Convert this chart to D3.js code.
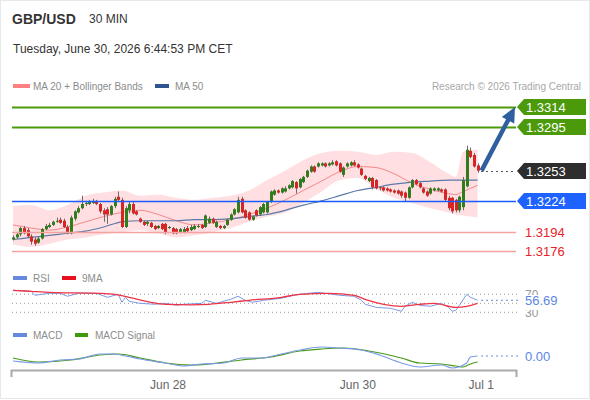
<!DOCTYPE html>
<html><head><meta charset="utf-8">
<script src="https://cdn.jsdelivr.net/npm/d3@7"></script>
<style>
body{margin:0;background:#fff;}
svg{display:block;font-family:"Liberation Sans",Arial,sans-serif;}
</style></head><body><svg id="c" width="590" height="400"></svg>
<script>
// ---------- DATA ----------
const opens = [1.3187,1.3189,1.3192,1.3198,1.3196,1.3190,1.3187,1.3184,1.3188,1.3197,
1.3199,1.3201,1.3204,1.3206,1.3205,1.3199,1.3193,1.3207,1.3213,1.3217,
1.3221,1.3221,1.3222,1.3224,1.3221,1.3215,1.3216,1.3211,1.3219,1.3228,
1.3225,1.3199,1.3215,1.3221,1.3214,1.3207,1.3204,1.3202,1.3203,1.3200,
1.3198,1.3202,1.3202,1.3198,1.3198,1.3197,1.3194,1.3194,1.3198,1.3196,
1.3197,1.3199,1.3201,1.3199,1.3203,1.3207,1.3199,1.3200,1.3198,1.3201,
1.3206,1.3211,1.3213,1.3226,1.3215,1.3213,1.3206,1.3215,1.3211,1.3213,
1.3213,1.3223,1.3230,1.3234,1.3232,1.3233,1.3236,1.3237,1.3242,1.3237,
1.3242,1.3247,1.3252,1.3257,1.3257,1.3258,1.3260,1.3258,1.3259,1.3262,
1.3260,1.3249,1.3257,1.3258,1.3261,1.3259,1.3255,1.3248,1.3243,1.3246,
1.3244,1.3237,1.3237,1.3236,1.3235,1.3234,1.3234,1.3233,1.3232,1.3227,
1.3237,1.3244,1.3241,1.3236,1.3233,1.3231,1.3234,1.3234,1.3235,1.3235,
1.3227,1.3227,1.3225,1.3215,1.3218,1.3238,1.3272,1.3268,1.3258];
const highs = [1.3191,1.3194,1.3199,1.3200,1.3198,1.3192,1.3189,1.3190,1.3198,1.3202,
1.3203,1.3205,1.3208,1.3208,1.3207,1.3201,1.3210,1.3215,1.3219,1.3229,
1.3224,1.3225,1.3226,1.3225,1.3222,1.3217,1.3218,1.3220,1.3228,1.3233,
1.3227,1.3219,1.3223,1.3223,1.3215,1.3208,1.3205,1.3205,1.3204,1.3201,
1.3201,1.3203,1.3203,1.3200,1.3199,1.3198,1.3198,1.3199,1.3200,1.3201,
1.3202,1.3202,1.3202,1.3211,1.3209,1.3208,1.3205,1.3201,1.3201,1.3207,
1.3212,1.3217,1.3228,1.3228,1.3216,1.3214,1.3210,1.3216,1.3219,1.3222,
1.3224,1.3234,1.3235,1.3235,1.3237,1.3238,1.3240,1.3244,1.3243,1.3246,
1.3248,1.3254,1.3258,1.3258,1.3261,1.3261,1.3261,1.3261,1.3263,1.3263,
1.3261,1.3257,1.3261,1.3262,1.3263,1.3260,1.3256,1.3249,1.3247,1.3247,
1.3245,1.3238,1.3238,1.3237,1.3236,1.3235,1.3235,1.3234,1.3233,1.3238,
1.3245,1.3245,1.3242,1.3237,1.3234,1.3237,1.3237,1.3237,1.3236,1.3236,
1.3229,1.3228,1.3226,1.3229,1.3247,1.3277,1.3275,1.3270,1.3260];
const lows = [1.3186,1.3188,1.3190,1.3192,1.3189,1.3182,1.3181,1.3183,1.3187,1.3196,
1.3198,1.3200,1.3203,1.3202,1.3198,1.3192,1.3192,1.3205,1.3212,1.3216,
1.3219,1.3220,1.3221,1.3220,1.3212,1.3204,1.3202,1.3210,1.3217,1.3224,
1.3198,1.3198,1.3212,1.3211,1.3210,1.3203,1.3200,1.3200,1.3198,1.3196,
1.3197,1.3196,1.3192,1.3197,1.3192,1.3192,1.3193,1.3193,1.3194,1.3195,
1.3196,1.3198,1.3197,1.3198,1.3202,1.3202,1.3198,1.3197,1.3197,1.3200,
1.3205,1.3210,1.3212,1.3212,1.3207,1.3205,1.3205,1.3209,1.3210,1.3212,
1.3212,1.3222,1.3229,1.3231,1.3231,1.3232,1.3235,1.3236,1.3231,1.3236,
1.3241,1.3246,1.3251,1.3251,1.3256,1.3257,1.3256,1.3257,1.3258,1.3257,
1.3251,1.3247,1.3256,1.3257,1.3257,1.3255,1.3248,1.3244,1.3242,1.3235,
1.3235,1.3234,1.3233,1.3233,1.3232,1.3231,1.3230,1.3227,1.3223,1.3226,
1.3236,1.3239,1.3236,1.3231,1.3228,1.3230,1.3233,1.3233,1.3232,1.3223,
1.3215,1.3212,1.3213,1.3213,1.3215,1.3237,1.3265,1.3256,1.3251];
const closes = [1.3189,1.3192,1.3198,1.3193,1.3190,1.3185,1.3183,1.3188,1.3197,1.3200,
1.3201,1.3204,1.3205,1.3203,1.3199,1.3193,1.3208,1.3214,1.3217,1.3221,
1.3222,1.3223,1.3224,1.3221,1.3214,1.3211,1.3211,1.3219,1.3226,1.3225,
1.3199,1.3217,1.3221,1.3212,1.3211,1.3204,1.3201,1.3204,1.3199,1.3197,
1.3200,1.3197,1.3194,1.3199,1.3193,1.3193,1.3197,1.3197,1.3195,1.3199,
1.3200,1.3200,1.3198,1.3210,1.3207,1.3203,1.3204,1.3198,1.3200,1.3206,
1.3211,1.3216,1.3225,1.3213,1.3208,1.3206,1.3209,1.3210,1.3218,1.3221,
1.3223,1.3233,1.3234,1.3232,1.3236,1.3236,1.3239,1.3243,1.3236,1.3245,
1.3247,1.3253,1.3257,1.3252,1.3260,1.3260,1.3257,1.3260,1.3261,1.3258,
1.3252,1.3256,1.3260,1.3261,1.3258,1.3256,1.3249,1.3245,1.3246,1.3237,
1.3236,1.3236,1.3234,1.3234,1.3233,1.3232,1.3231,1.3229,1.3227,1.3237,
1.3244,1.3240,1.3237,1.3232,1.3229,1.3236,1.3236,1.3236,1.3233,1.3225,
1.3217,1.3214,1.3215,1.3228,1.3244,1.3273,1.3266,1.3257,1.3253];

// Indicator samples (candle index -> value)
const bandIdx = [0,5,10,15,20,25,30,35,40,45,50,55,60,65,70,75,80,85,90,95,100,105,110,115,120,122,124,126,128];
const bbUpper = [1.3219,1.3220,1.3215,1.3220,1.3229,1.3232,1.3234,1.3229,1.3230,1.3227,1.3225,1.3227,1.3229,1.3234,1.3244,1.3253,1.3263,1.3270,1.3272,1.3271,1.3268,1.3271,1.3270,1.3261,1.3250,1.3247,1.3271,1.3273,1.3273];
const bbLower = [1.3182,1.3180,1.3183,1.3187,1.3189,1.3192,1.3194,1.3196,1.3193,1.3189,1.3191,1.3194,1.3198,1.3204,1.3209,1.3213,1.3222,1.3233,1.3244,1.3246,1.3236,1.3227,1.3222,1.3217,1.3213,1.3211,1.3210,1.3209,1.3208];
const ma20 = [1.3201,1.3198,1.3196,1.3199,1.3204,1.3209,1.3213,1.3215,1.3211,1.3205,1.3201,1.3203,1.3206,1.3211,1.3217,1.3225,1.3234,1.3243,1.3252,1.3257,1.3256,1.3250,1.3241,1.3235,1.3231,1.3230,1.3233,1.3236,1.3239];
const ma50 = [1.3187,1.3189,1.3191,1.3193,1.3195,1.3199,1.3204,1.3205,1.3205,1.3205,1.3206,1.3206,1.3207,1.3209,1.3211,1.3215,1.3220,1.3224,1.3229,1.3234,1.3237,1.3240,1.3242,1.3243,1.3244,1.3244,1.3244,1.3244,1.3244];

const rsiIdx = [0,5,6,10,13,15,18,23,26,29,30,31,32,35,39,42,45,47,52,53,56,60,62,64,66,69,74,76,79,84,90,94,96,97,100,104,107,108,110,112,115,118,120,121,122,123,125,126,128];
const rsiVals = [78.9,76.7,67.8,72.2,72.2,65.6,72.2,72.2,63.3,70.0,52.2,63.3,54.4,50.0,47.8,50.0,45.6,47.8,50.0,56.7,50.0,58.9,65.6,56.7,52.2,56.7,61.1,65.6,70.0,74.4,67.8,65.6,56.7,47.8,41.1,38.9,32.2,43.3,52.2,45.6,43.3,50.0,41.1,32.2,34.4,45.6,70.0,63.3,56.69];
const rsiMaIdx = [0,5,10,24,28,32,38,42,49,54,60,65,74,79,87,94,97,107,112,116,122,125,128];
const rsiMaVals = [78.9,76.7,74.4,72.2,70.0,63.3,52.2,47.8,46.7,47.8,52.2,56.7,63.3,70.0,72.2,67.8,58.9,43.3,47.8,50.0,41.1,43.3,50.0];
const rsiLevels = [70,50,30];

const macdIdx = [0,7,13,18,24,28,31,35,42,47,52,58,63,68,74,79,85,90,96,101,107,112,118,121,125,126,128];
const macdVals = [-0.00010,-0.00014,-0.00008,-0.00006,0.00004,0.00004,0.00000,-0.00006,-0.00014,-0.00020,-0.00016,-0.00014,-0.00004,-0.00004,0.00004,0.00012,0.00018,0.00016,0.00012,0.00002,-0.00014,-0.00022,-0.00018,-0.00024,-0.00014,-0.00002,0.00000];
const sigIdx = [0,7,16,24,29,35,42,49,54,63,71,79,85,91,98,107,112,118,122,124,126,128];
const sigVals = [-0.00004,-0.00012,-0.00008,0.00002,0.00004,-0.00004,-0.00014,-0.00018,-0.00016,-0.00008,-0.00002,0.00010,0.00014,0.00016,0.00010,-0.00004,-0.00014,-0.00016,-0.00020,-0.00022,-0.00016,-0.00012];

const levelValues = [1.3314,1.3295,1.3224,1.3194,1.3176];
const levelTypes = ["target","resistance","pivot","support","support"];
const lastPrice = 1.3253;
const rsiLast = 56.69;
const macdLast = 0.00;

const tickIdx = [42.7,95,129];
const tickLabels = ["Jun 28","Jun 30","Jul 1"];

// ---------- DRAW ----------
const svg = d3.select("#c");
svg.append("rect").attr("x",0.5).attr("y",0.5).attr("width",589).attr("height",398)
  .attr("fill","#fff").attr("stroke","#e6e9ec");

// header
svg.append("text").attr("x",12).attr("y",24).attr("font-size",14).attr("font-weight","bold").attr("fill","#333").text("GBP/USD");
svg.append("text").attr("x",89).attr("y",23).attr("font-size",12).attr("fill","#333").text("30 MIN");
svg.append("text").attr("x",13).attr("y",53).attr("font-size",12).attr("fill","#333").text("Tuesday, June 30, 2026 6:44:53 PM CET");

// legends
function legend(items, yy){
  items.forEach(it=>{
    svg.append("rect").attr("x",it.x).attr("y",yy-2).attr("width",it.w).attr("height",4).attr("fill",it.c);
    svg.append("text").attr("x",it.tx).attr("y",yy+4).attr("font-size",10).attr("fill","#8c8c8c").text(it.t);
  });
}
legend([{x:13,w:17,c:"#ff8080",tx:33,t:"MA 20 + Bollinger Bands"},{x:155,w:14,c:"#2e5590",tx:175,t:"MA 50"}],86);
svg.append("text").attr("x",581).attr("y",90).attr("text-anchor","end").attr("font-size",10).attr("fill","#a8a8a8").text("Research \u00a9 2026 Trading Central");

const x = d3.scaleLinear().domain([0, closes.length-1]).range([13, 477.6]);
const y = d3.scaleLinear().domain([1.3176,1.3314]).range([251,107]);

const bandIdxI = bandIdx.map((d,i)=>i);
svg.append("path").datum(bandIdxI)
  .attr("d", d3.area().x(i=>x(bandIdx[i])).y0(i=>y(bbLower[i])).y1(i=>y(bbUpper[i])).curve(d3.curveMonotoneX))
  .attr("fill","#ffdfe1");
svg.append("path").datum(bandIdxI)
  .attr("d", d3.line().x(i=>x(bandIdx[i])).y(i=>y(ma20[i])).curve(d3.curveMonotoneX))
  .attr("fill","none").attr("stroke","#f4878a").attr("stroke-width",1);
svg.append("path").datum(bandIdxI)
  .attr("d", d3.line().x(i=>x(bandIdx[i])).y(i=>y(ma50[i])).curve(d3.curveMonotoneX))
  .attr("fill","none").attr("stroke","#5a79a8").attr("stroke-width",1.2);

// candles
const cg = svg.append("g");
closes.forEach((c,i)=>{
  const o = opens[i], up = c >= o;
  const cx = Math.round(x(i));
  cg.append("line").attr("x1",cx+0.5).attr("x2",cx+0.5).attr("y1",y(highs[i])).attr("y2",y(lows[i]))
    .attr("stroke","#6b6b6b").attr("stroke-width",1);
  const top = y(Math.max(o,c)), bot = y(Math.min(o,c));
  cg.append("rect").attr("x",cx-1).attr("y",top).attr("width",3).attr("height",Math.max(1,bot-top))
    .attr("fill", up ? "#2f7d1c" : "#d82424");
});

// level lines
const levelStyle = {
  target:{line:"#4c9a0c",w:2,box:"#4c9a0c"},
  resistance:{line:"#4c9a0c",w:2,box:"#4c9a0c"},
  pivot:{line:"#1a5cff",w:1.5,box:"#1e63ff"},
  support:{line:"#f4a3a3",w:1.5,box:null}
};
levelValues.forEach((v,k)=>{
  const s = levelStyle[levelTypes[k]];
  const yy = Math.round(y(v))+0.5;
  svg.append("line").attr("x1",12).attr("x2",516).attr("y1",yy).attr("y2",yy)
    .attr("stroke",s.line).attr("stroke-width",s.w);
});

// last price dotted
const yl = Math.round(y(lastPrice))+0.5;
svg.append("line").attr("x1",481).attr("x2",516).attr("y1",yl).attr("y2",yl)
  .attr("stroke","#555").attr("stroke-dasharray","2,3");

function tag(yc, fill, txt){
  const yy = Math.round(yc);
  svg.append("path").attr("d",`M517,${yy} L524,${yy-8} L586,${yy-8} L586,${yy+8} L524,${yy+8} Z`).attr("fill",fill);
  svg.append("text").attr("x",526).attr("y",yy+4.5).attr("font-size",13).attr("fill","#fff").text(txt);
}
levelValues.forEach((v,k)=>{
  const s = levelStyle[levelTypes[k]];
  if (s.box) tag(y(v), s.box, v.toFixed(4));
  else svg.append("text").attr("x",525).attr("y",Math.round(y(v))+5).attr("font-size",13).attr("fill","#e8222a").text(v.toFixed(4));
});
tag(y(lastPrice), "#2e2e2e", lastPrice.toFixed(4));

// arrow
(function(){
  const x0 = x(closes.length-1)+4, y0 = y(lastPrice);
  const x1 = 515, y1 = y(levelValues[0]);
  const dx = x1-x0, dy = y1-y0, L = Math.hypot(dx,dy), ux = dx/L, uy = dy/L;
  const bx = x1-ux*15, by = y1-uy*15, px = -uy, py = ux;
  svg.append("line").attr("x1",x0).attr("y1",y0).attr("x2",bx+ux*2).attr("y2",by+uy*2)
    .attr("stroke","#2f5f9f").attr("stroke-width",4.5);
  svg.append("path").attr("d",`M${x1},${y1} L${bx+px*7},${by+py*7} L${bx-px*7},${by-py*7} Z`).attr("fill","#2f5f9f");
})();

// ---------- RSI ----------
legend([{x:13,w:14,c:"#6688dd",tx:33,t:"RSI"},{x:62,w:14,c:"#e8101e",tx:82,t:"9MA"}],278);
const yR = d3.scaleLinear().domain([30,70]).range([312.3,294.3]);
rsiLevels.forEach(v=>{
  svg.append("line").attr("x1",12).attr("x2",520).attr("y1",yR(v)).attr("y2",yR(v))
    .attr("stroke","#9a9a9a").attr("stroke-dasharray","1,3");
});
svg.append("path").datum(rsiIdx.map((d,i)=>i))
  .attr("d", d3.line().x(i=>x(rsiIdx[i])).y(i=>yR(rsiVals[i])))
  .attr("fill","none").attr("stroke","#7b9ae6").attr("stroke-width",1);
svg.append("path").datum(rsiMaIdx.map((d,i)=>i))
  .attr("d", d3.line().x(i=>x(rsiMaIdx[i])).y(i=>yR(rsiMaVals[i])).curve(d3.curveMonotoneX))
  .attr("fill","none").attr("stroke","#ee3344").attr("stroke-width",1.3);
svg.append("line").attr("x1",481).attr("x2",520).attr("y1",yR(rsiLast)).attr("y2",yR(rsiLast))
  .attr("stroke","#6688dd").attr("stroke-dasharray","2,3");
[70,30].forEach(v=>{
  svg.append("text").attr("x",525).attr("y",yR(v)+4.5).attr("font-size",12).attr("fill","#999").text(v);
});
svg.append("rect").attr("x",521).attr("y",295).attr("width",60).attr("height",15).attr("fill","#fff");
svg.append("text").attr("x",525).attr("y",yR(rsiLast)+5).attr("font-size",13).attr("fill","#5b86e5").text(rsiLast.toFixed(2));

// ---------- MACD ----------
legend([{x:13,w:14,c:"#6688dd",tx:33,t:"MACD"},{x:75,w:13,c:"#3d9a0a",tx:95,t:"MACD Signal"}],335);
const yM = d3.scaleLinear().domain([-0.0003,0.0003]).range([371,341]);
svg.append("path").datum(sigIdx.map((d,i)=>i))
  .attr("d", d3.line().x(i=>x(sigIdx[i])).y(i=>yM(sigVals[i])).curve(d3.curveMonotoneX))
  .attr("fill","none").attr("stroke","#4a9a1a").attr("stroke-width",1.2);
svg.append("path").datum(macdIdx.map((d,i)=>i))
  .attr("d", d3.line().x(i=>x(macdIdx[i])).y(i=>yM(macdVals[i])).curve(d3.curveMonotoneX))
  .attr("fill","none").attr("stroke","#7b9ae6").attr("stroke-width",1.2);
svg.append("line").attr("x1",481).attr("x2",520).attr("y1",yM(macdLast)).attr("y2",yM(macdLast))
  .attr("stroke","#6688dd").attr("stroke-dasharray","2,3");
svg.append("text").attr("x",525).attr("y",yM(macdLast)+4.5).attr("font-size",13).attr("fill","#5b86e5").text(macdLast.toFixed(2));

// ---------- X AXIS ----------
const ax = svg.append("g");
ax.append("path").attr("d","M11.5,377 L11.5,370.5 L516.5,370.5 L516.5,377").attr("fill","none").attr("stroke","#aaa").attr("stroke-width",2);
tickIdx.forEach((t,k)=>{
  ax.append("text").attr("x",x(t)).attr("y",389).attr("text-anchor","middle").attr("font-size",12).attr("fill","#666").text(tickLabels[k]);
});
</script></body></html>
